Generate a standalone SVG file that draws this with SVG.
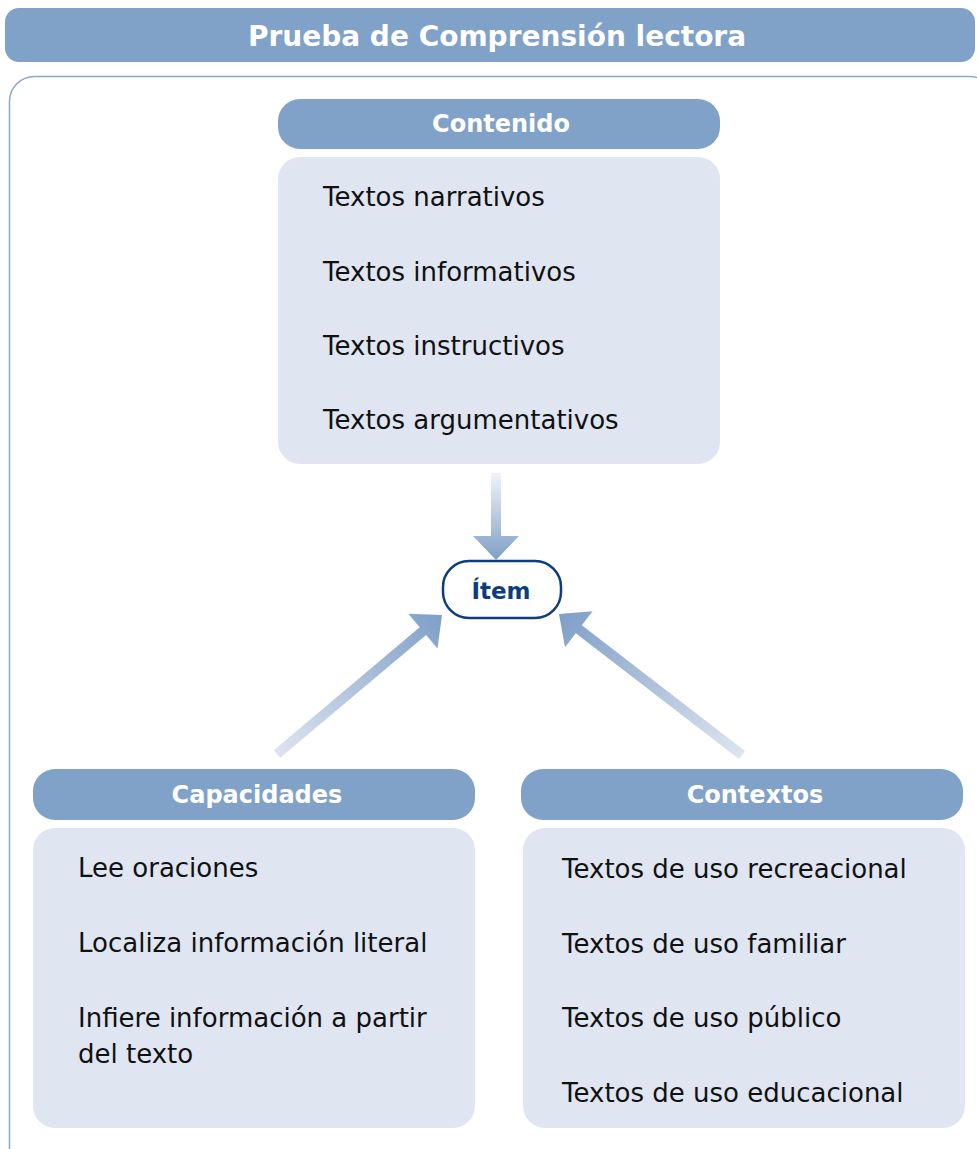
<svg xmlns="http://www.w3.org/2000/svg" width="977" height="1149" viewBox="0 0 977 1149">
<style>
.hdr{fill:#80a1c8}
.box{fill:#dfe5f1}
.ht{font-family:"DejaVu Sans",sans-serif;font-weight:bold;font-size:24px;fill:#ffffff;text-anchor:middle}
.bt{font-family:"DejaVu Sans",sans-serif;font-size:26px;fill:#111111}
</style>
<defs>
<linearGradient id="gDown" gradientUnits="userSpaceOnUse" x1="496" y1="473" x2="496" y2="560">
<stop offset="0" stop-color="#f1f4f9"/><stop offset="1" stop-color="#7f9fc7"/>
</linearGradient>
<linearGradient id="gLeft" gradientUnits="userSpaceOnUse" x1="277" y1="754" x2="442" y2="615">
<stop offset="0" stop-color="#dde4f0"/><stop offset="1" stop-color="#7f9fc7"/>
</linearGradient>
<linearGradient id="gRight" gradientUnits="userSpaceOnUse" x1="742" y1="755" x2="559" y2="614">
<stop offset="0" stop-color="#dde4f0"/><stop offset="1" stop-color="#7f9fc7"/>
</linearGradient>
</defs>
<rect width="977" height="1149" fill="#ffffff"/>
<g id="title">
<rect x="5" y="8" width="970" height="54" rx="14" class="hdr"/>
<text x="497" y="46" class="ht" style="font-size:28px">Prueba de Comprensión lectora</text>
</g>
<g id="frame">
<rect x="9.5" y="76.5" width="985" height="1100" rx="25" fill="none" stroke="#8ba7cc" stroke-width="1.5"/>
</g>
<g id="contenido">
<rect x="278" y="99" width="442" height="50" rx="22" class="hdr"/>
<text x="501" y="132" class="ht">Contenido</text>
<rect x="278" y="157" width="442" height="307" rx="22" class="box"/>
<text x="323" y="206" class="bt">Textos narrativos</text>
<text x="323" y="281" class="bt">Textos informativos</text>
<text x="323" y="355" class="bt">Textos instructivos</text>
<text x="323" y="429" class="bt">Textos argumentativos</text>
</g>
<g id="item">
<rect x="443" y="561" width="118" height="57" rx="26" fill="#ffffff" stroke="#0e3d7e" stroke-width="2.5"/>
<text x="501" y="599" class="ht" style="fill:#0e3d7e;font-size:23px">Ítem</text>
</g>
<g id="capacidades">
<rect x="33" y="769" width="442" height="51" rx="22" class="hdr"/>
<text x="257" y="803" class="ht">Capacidades</text>
<rect x="33" y="828" width="442" height="300" rx="22" class="box"/>
<text x="78" y="877" class="bt">Lee oraciones</text>
<text x="78" y="952" class="bt">Localiza información literal</text>
<text x="78" y="1027" class="bt">Infiere información a partir</text>
<text x="78" y="1063" class="bt">del texto</text>
</g>
<g id="contextos">
<rect x="521" y="769" width="442" height="51" rx="22" class="hdr"/>
<text x="755" y="803" class="ht">Contextos</text>
<rect x="523" y="828" width="442" height="300" rx="22" class="box"/>
<text x="562" y="878" class="bt">Textos de uso recreacional</text>
<text x="562" y="953" class="bt">Textos de uso familiar</text>
<text x="562" y="1027" class="bt">Textos de uso público</text>
<text x="562" y="1102" class="bt">Textos de uso educacional</text>
</g>
<g id="connectors">
<polygon points="491,473 501,473 501,536 519,536 496,560 473,536 491,536" fill="url(#gDown)"/>
<polygon points="273.8,750.2 419.7,627.3 408.3,613.7 442,615 437.5,648.5 426.1,634.9 280.2,757.8" fill="url(#gLeft)"/>
<polygon points="745.05,751 581.85,625.3 592.6,611.3 559,614 565,647.3 575.75,633.3 738.95,759" fill="url(#gRight)"/>
</g>
</svg>
